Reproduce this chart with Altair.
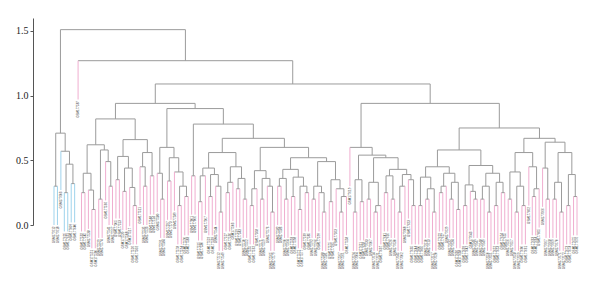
import altair as alt
import pandas as pd

AXIS_TICKS = [0.0, 0.5, 1.0, 1.5]
HANG = 0.30
N_BLUE = 7

# Sub-trees: "(left,right):merge_height", L = leaf
A_CL = "((L,L):0.30,(L,((L,L):0.25,(L,L):0.32):0.47):0.57):0.71"
D1A = "(((L,L):0.25,(L,(L,L):0.12):0.27):0.40,((L,L):0.20,(L,(L,L):0.30):0.49):0.58):0.62"
D1B = "(((L,L):0.35,((L,L):0.26,(L,(L,L):0.15):0.29):0.44):0.53,((L,(L,L):0.30):0.45,(L,L):0.38):0.56):0.66"
F_CL = "((L,(L,L):0.20):0.40,((L,L):0.34,(L,((L,L):0.15,(L,L):0.22):0.30):0.41):0.52):0.60"
G1 = "(L,L):0.38"
G2A = "((((L,L):0.18,L):0.38,((L,L):0.22,(L,(L,L):0.10):0.30):0.39):0.44,(((L,L):0.25,L):0.33,((L,L):0.28,(L,L):0.20):0.36):0.45):0.56"
G2B1 = "(((L,L):0.15,L):0.28,((L,L):0.20,(L,(L,L):0.10):0.30):0.36):0.42"
G2B2L = "(((L,L):0.30,(L,L):0.20):0.36,((L,L):0.22,((L,L):0.12,(L,L):0.25):0.30):0.37):0.43"
G2B2R = "(((L,L):0.20,(L,(L,L):0.10):0.25):0.30,((L,L):0.18,(L,((L,L):0.10,L):0.22):0.28):0.35):0.49"
E1R1 = "((L,L):0.10,(L,L):0.18):0.35"
E1R2 = "(((L,L):0.20,((L,L):0.10,L):0.15):0.33,(((L,L):0.25,(L,L):0.20):0.38,(((L,L):0.10,L):0.30,(L,(L,L):0.15):0.35):0.39):0.43):0.52"
N432 = "((L,L):0.15,((L,L):0.20,(L,L):0.10):0.28):0.37"
N455 = "(((L,L):0.25,L):0.30,((L,L):0.20,(L,L):0.12):0.33):0.40"
N475 = "((L,L):0.15,(L,(L,L):0.20):0.26):0.31"
N500 = "(((L,L):0.20,(L,L):0.10):0.30,((L,L):0.15,(L,L):0.25):0.33):0.40"
N510 = "((L,L):0.20,((L,L):0.10,(L,L):0.15):0.30):0.41"
N528 = "(L,((L,L):0.22,L):0.28):0.45"
N543 = "(L,(L,L):0.20):0.44"
N562 = "(((L,L):0.20,(L,L):0.10):0.33,((L,L):0.15,(L,L):0.22):0.39):0.56"

G2B = f"({G2B1},({G2B2L},{G2B2R}):0.52):0.60"
G2 = f"({G2A},{G2B}):0.67"
G_CL = f"({G1},{G2}):0.78"
D2 = f"({F_CL},{G_CL}):0.90"
D1 = f"({D1A},{D1B}):0.82"
D_CL = f"({D1},{D2}):0.94"
E1 = f"(L,({E1R1},{E1R2}):0.54):0.60"
E2L = f"(({N432},{N455}):0.45,({N475},{N500}):0.46):0.58"
E2R = f"(({N510},{N528}):0.56,({N543},{N562}):0.64):0.67"
E_CL = f"({E1},({E2L},{E2R}):0.75):0.94"
TREE = f"({A_CL},(L,({D_CL},{E_CL}):1.09):1.27):1.51"

LABEL_IDS = (
    "612 618 603 625 631 609 640 587 "
    "532 545 538 551 560 529 574 566 541 557 "
    "505 513 520 508 517 526 502 511 535 523 548 514 "
    "580 591 584 597 573 589 578 594 570 583 601 606 "
    "515 530 507 522 539 544 512 549 527 536 503 519 543 510 552 "
    "555 562 568 571 559 576 565 579 582 586 590 564 593 598 572 577 569 585 592 596 599 588 581 575 595 563 567 561 558 "
    "619 624 604 611 628 633 607 614 621 637 641 616 626 630 645 602 608 623 635 644 "
    "600 605 610 613 617 620 622 627 629 632 634 636 638 639 642 643 646 647 648 649 650 651 652 653 "
    "654 655 656 657 658 659 660 661 662 663 664 665 666 667 668 669 670 671 672 673 674 675 676"
).split()
LABELS = ["GSM177" + s for s in LABEL_IDS]

GREY = "#9b9b9b"
BLUE = "#9fd3ec"
PINK = "#f0aed0"


def parse(s):
    pos = 0

    def node():
        nonlocal pos
        if s[pos] == "L":
            pos += 1
            return None
        pos += 1  # (
        left = node()
        pos += 1  # ,
        right = node()
        pos += 2  # ):
        j = pos
        while pos < len(s) and (s[pos].isdigit() or s[pos] == "."):
            pos += 1
        return (float(s[j:pos]), left, right)

    return node()


tree = parse(TREE)
segs = []
leaves = []
counter = [0]


def layout(n, parent_h):
    if n is None:
        i = counter[0]
        counter[0] += 1
        bottom = parent_h - HANG
        leaves.append({"x": i, "y": bottom, "label": LABELS[i % len(LABELS)]})
        return i, bottom, (BLUE if i < N_BLUE else PINK)
    h, l, r = n
    xl, yl, cl = layout(l, h)
    xr, yr, cr = layout(r, h)
    segs.append({"x": xl, "x2": xr, "y": h, "y2": h, "c": GREY})
    segs.append({"x": xl, "x2": xl, "y": h, "y2": yl, "c": cl})
    segs.append({"x": xr, "x2": xr, "y": h, "y2": yr, "c": cr})
    return (xl + xr) / 2, h, GREY


layout(tree, tree[0])
N = counter[0]
seg_df = pd.DataFrame(segs)
leaf_df = pd.DataFrame(leaves)

W, H = 567, 207
px_per = 523 / (N - 1)
X0 = -21 / px_per
X1 = X0 + W / px_per

xs = alt.Scale(domain=[X0, X1], nice=False, zero=False)
ys = alt.Scale(domain=[0, 1.6], nice=False, zero=False)

lines = alt.Chart(seg_df).mark_rule(strokeWidth=1).encode(
    x=alt.X("x:Q", scale=xs, axis=None),
    x2="x2:Q",
    y=alt.Y("y:Q", scale=ys, title=None,
            axis=alt.Axis(values=AXIS_TICKS, format=".1f", grid=False,
                          labelFont="Liberation Serif", labelFontSize=10,
                          labelColor="#222222", tickSize=3, tickColor="#555555",
                          domainColor="#555555", labelPadding=2)),
    y2="y2:Q",
    color=alt.Color("c:N", scale=None),
)

texts = alt.Chart(leaf_df).mark_text(
    angle=270, align="right", baseline="middle", fontSize=3.0,
    font="Liberation Sans", color="#333333", dx=-1.5
).encode(
    x=alt.X("x:Q", scale=xs, axis=None),
    y=alt.Y("y:Q", scale=ys),
    text="label:N",
)

chart = alt.layer(lines, texts).properties(
    width=W, height=H,
    autosize=alt.AutoSizeParams(type="none"),
    padding={"left": 33, "top": 18, "right": 0, "bottom": 68},
).configure_view(stroke=None)

chart.save("out.html", embed_options={"renderer": "svg", "actions": False})
